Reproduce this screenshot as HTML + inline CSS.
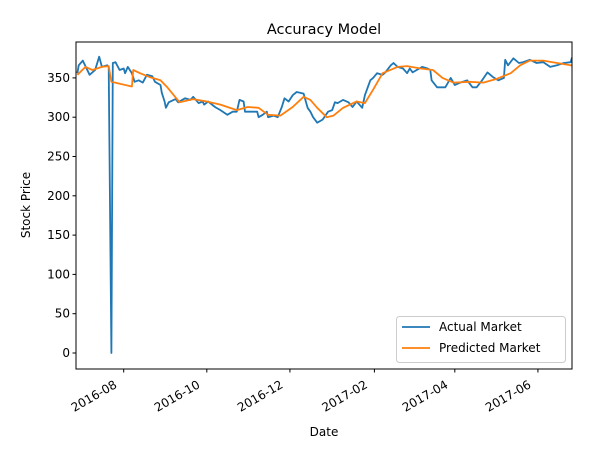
<!DOCTYPE html>
<html><head><meta charset="utf-8"><style>
body{margin:0;background:#fff;font-family:"Liberation Sans","DejaVu Sans",sans-serif}
svg text{font-family:"DejaVu Sans","Liberation Sans",sans-serif;fill:#000}
</style></head><body>
<svg id="c" width="595" height="459" viewBox="0 0 595 459"></svg>
<script>
const actualDays=[1,2,5,10,14,17,19,23,24,26,27,29,32,35,36,38,41,43,46,49,52,56,58,62,63,65,66,68,73,75,80,84,86,90,93,94,97,102,106,111,115,118,120,123,124,129,133,134,137,140,141,145,148,151,153,156,159,162,167,170,172,174,177,181,185,188,190,192,196,200,203,206,210,212,216,218,221,225,227,231,233,236,240,243,245,247,254,258,260,261,265,269,271,275,278,282,287,291,294,298,302,306,310,314,315,317,321,325,328,333,338,343,348,353,358,363,364];
const actualVals=[356,366,372,354,360,377,364,366,364,0,369,370,360,362,356,364,356,345,347,344,354,352,345,341,331,320,312,319,323,319,324,322,326,318,320,316,320,313,309,303,307,307,322,320,307,307,307,300,303,307,300,302,300,313,324,320,328,332,330,312,307,300,293,297,307,309,319,318,322,319,313,320,312,328,347,350,356,354,357,366,369,364,362,356,362,357,364,362,360,347,338,338,338,350,341,344,347,338,338,347,357,351,347,350,373,366,375,369,370,373,369,370,364,366,369,370,376];
const predDays=[1,7,12,19,24,26,31,41,42,47,54,62,67,76,86,96,106,118,126,134,141,150,159,167,172,177,184,189,196,206,212,218,225,236,243,253,262,269,277,289,299,309,319,326,333,343,353,363,364];
const predVals=[354,364,360,364,365,345,343,339,360,356,351,347,338,319,323,320,316,309,313,312,303,302,313,326,322,312,300,302,312,320,318,335,356,364,365,362,360,350,344,345,344,349,356,366,372,372,369,366,366];
const yTicks=[0,50,100,150,200,250,300,350];
const xTickDays=[35,96,157,219,278,339];
const xTickLabels=["2016-08","2016-10","2016-12","2017-02","2017-04","2017-06"];
const L=76,R=572,T=42,B=369;
const xs=d=>L+d*(R-L)/364;
const ys=v=>353-v*0.786;
const svg=document.getElementById('c');
const NS='http://www.w3.org/2000/svg';
function mk(tag,attrs,parent){const e=document.createElementNS(NS,tag);for(const k in attrs)e.setAttribute(k,attrs[k]);(parent||svg).appendChild(e);return e;}
const clip=mk('clipPath',{id:'pc'});mk('rect',{x:L,y:T,width:R-L,height:B-T},clip);
function line(days,vals,color,name){
  const p=mk('polyline',{points:days.map((d,i)=>xs(d).toFixed(1)+','+ys(vals[i]).toFixed(1)).join(' '),fill:'none',stroke:color,'stroke-width':1.8,'clip-path':'url(#pc)','stroke-linejoin':'round'});
  
  
}
line(actualDays,actualVals,'#1f77b4','actual-market-line');
line(predDays,predVals,'#ff7f0e','predicted-market-line');
const frame=mk('rect',{x:L,y:T,width:R-L,height:B-T,fill:'none',stroke:'#000','stroke-width':1});


yTicks.forEach(v=>{
  const y=ys(v);
  const t=mk('line',{x1:L-3.5,x2:L,y1:y,y2:y,stroke:'#000'});
  
  
  const tx=mk('text',{x:L-6,y:y+4,'text-anchor':'end','font-size':12});
  tx.textContent=v;
  
  
});
xTickDays.forEach((d,i)=>{
  const x=xs(d);
  const t=mk('line',{x1:x,x2:x,y1:B,y2:B+3.5,stroke:'#000'});
  
  
  const ax=x-6, ay=B+18;
  const tx=mk('text',{x:ax,y:ay,'text-anchor':'end','font-size':12,transform:`rotate(-30 ${ax} ${ay})`});
  tx.textContent=xTickLabels[i];
  
  
});
</script>
<svg width="595" height="459" style="position:absolute;left:0;top:0">
<text x="324" y="34" text-anchor="middle" font-size="14.5">Accuracy Model</text>
<text x="324" y="436" text-anchor="middle" font-size="12">Date</text>
<text x="30" y="205" text-anchor="middle" font-size="12" transform="rotate(-90 30 205)">Stock Price</text>
<g>
<rect x="396.5" y="316.5" width="169" height="46" rx="3" fill="#fff" fill-opacity="0.8" stroke="#ccc"/>
<line x1="402" x2="430" y1="327" y2="327" stroke="#1f77b4" stroke-width="1.8"/>
<text x="439" y="331" font-size="12">Actual Market</text>
<line x1="402" x2="430" y1="348" y2="348" stroke="#ff7f0e" stroke-width="1.8"/>
<text x="439" y="352" font-size="12">Predicted Market</text>
</g>
</svg>
</body></html>
